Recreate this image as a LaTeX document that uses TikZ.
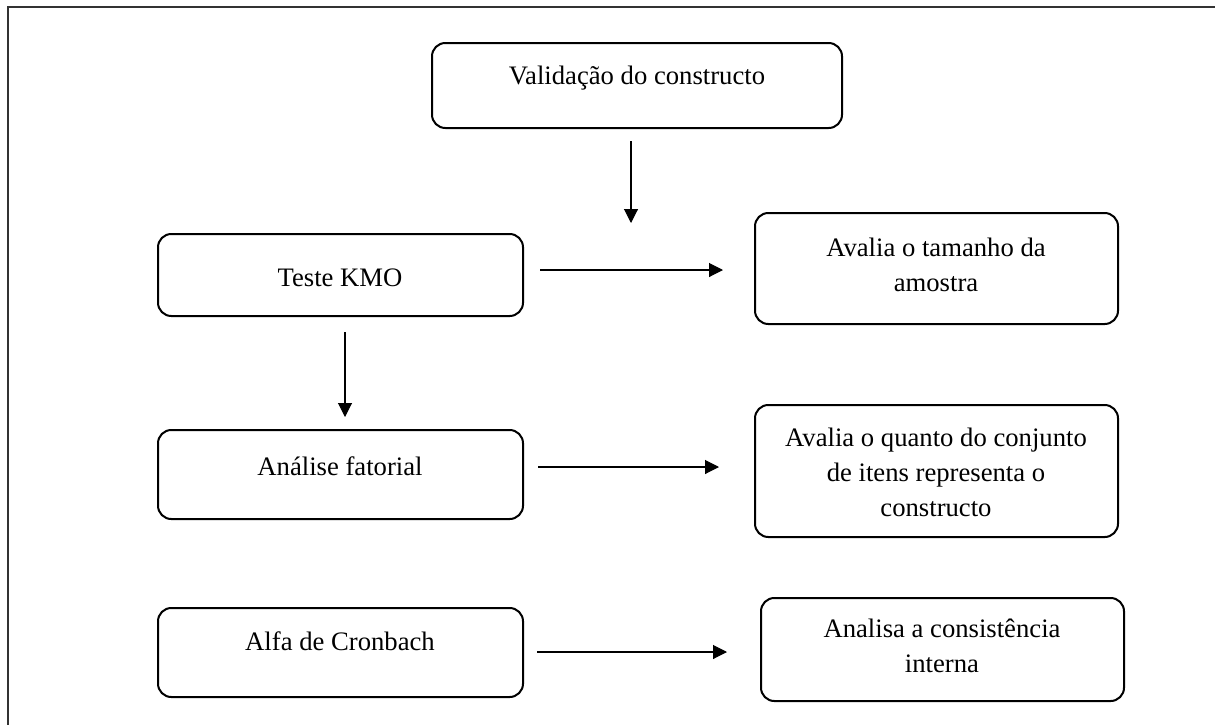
\documentclass[tikz,border=0pt]{standalone}
\usepackage{fontspec}
\setmainfont{Liberation Serif}
\usetikzlibrary{arrows.meta,fit}

\begin{document}
\begin{tikzpicture}[x=0.75pt,y=-0.75pt,
  box/.style={draw=black, line width=1.5pt, rounded corners=10pt, inner sep=0pt},
  lbl/.style={inner sep=0pt, align=center, font=\fontsize{20}{26.25}\selectfont},
  flow/.style={line width=0.8pt, -{Triangle[length=10.5pt,width=10.5pt]}},
  frame/.style={draw=black!80, line width=1pt}]
\useasboundingbox (0,0) rectangle (1215,725);

% outer frame (open at the right and bottom)
\draw[frame] (8,725) -- (8,7) -- (1215,7);

% boxes
\node[box, fit={(432,43) (842,128)}] (b1) {};
\node[box, fit={(158,234) (523,316)}] (b2) {};
\node[box, fit={(755,213) (1118,324)}] (b3) {};
\node[box, fit={(158,430) (523,519)}] (b4) {};
\node[box, fit={(755,405) (1118,537)}] (b5) {};
\node[box, fit={(158,608) (523,697)}] (b6) {};
\node[box, fit={(761,598) (1124,701)}] (b7) {};

% labels
\node[lbl, anchor=base] (t1) at (637,84) {Validação do constructo};
\node[lbl, anchor=base] (t2) at (340,286) {Teste KMO};
\node[lbl, anchor=center] (t3) at (936,264.5) {Avalia o tamanho da\\amostra};
\node[lbl, anchor=base] (t4) at (340,475) {Análise fatorial};
\node[lbl, anchor=center] (t5) at (936,472) {Avalia o quanto do conjunto\\de itens representa o\\constructo};
\node[lbl, anchor=base] (t6) at (340,650) {Alfa de Cronbach};
\node[lbl, anchor=center] (t7) at (942,646) {Analisa a consistência\\interna};

% free-standing arrows
\coordinate (a1s) at (631,141);  \coordinate (a1e) at (631,223);
\coordinate (a2s) at (540,270);  \coordinate (a2e) at (723,270);
\coordinate (a3s) at (345,332);  \coordinate (a3e) at (345,417);
\coordinate (a4s) at (538,467);  \coordinate (a4e) at (719,467);
\coordinate (a5s) at (537,652);  \coordinate (a5e) at (727,652);
\draw[flow] (a1s) -- (a1e);
\draw[flow] (a2s) -- (a2e);
\draw[flow] (a3s) -- (a3e);
\draw[flow] (a4s) -- (a4e);
\draw[flow] (a5s) -- (a5e);
\end{tikzpicture}
\end{document}
